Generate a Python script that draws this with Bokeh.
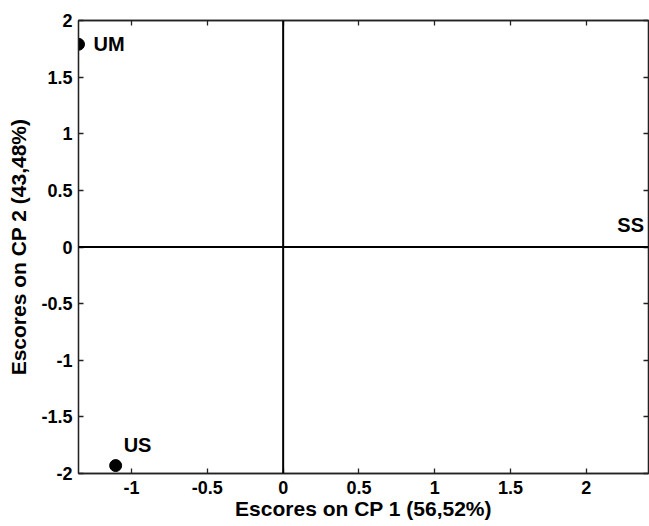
from bokeh.plotting import figure
from bokeh.models import ColumnDataSource, Span, LinearAxis, FixedTicker, Range1d
from bokeh.core.properties import value
from bokeh.embed import file_html
from bokeh.resources import INLINE

# PCA scores
names = ["UM", "US", "SS"]
cp1 = [-1.35, -1.105, 2.60]
cp2 = [1.79, -1.93, 0.19]
label_dx = [15, 8, -60]
label_dy = [0, -21, 0]

x_ticks = [-1, -0.5, 0, 0.5, 1, 1.5, 2]
x_tick_labels = ["-1", "-0.5", "0", "0.5", "1", "1.5", "2"]
y_ticks = [-2, -1.5, -1, -0.5, 0, 0.5, 1, 1.5, 2]
y_tick_labels = ["-2", "-1.5", "-1", "-0.5", "0", "0.5", "1", "1.5", "2"]

x_title = "Escores on CP 1 (56,52%)"
y_title = "Escores on CP 2 (43,48%)"

FONT = "Liberation Sans"

p = figure(width=649, height=526, output_backend="svg", toolbar_location=None,
           x_range=Range1d(-1.35, 2.41), y_range=Range1d(-2, 2),
           x_axis_location=None, y_axis_location=None,
           min_border_left=78, min_border_right=1, min_border_top=20,
           min_border_bottom=53)
p.grid.visible = False
p.outline_line_color = "#222222"
p.outline_line_width = 1.3
p.background_fill_color = "white"
p.border_fill_color = "white"


def style_axis(ax, labels):
    ax.major_tick_in = 5
    ax.major_tick_out = 0
    ax.minor_tick_in = 0
    ax.minor_tick_out = 0
    ax.axis_line_color = "#222222"
    ax.axis_line_width = 1.3
    ax.major_tick_line_color = "#222222"
    ax.major_tick_line_width = 1.3
    ax.major_label_text_font = FONT
    ax.major_label_text_font_style = "bold"
    ax.major_label_text_font_size = "18px"
    ax.major_label_text_color = "black"
    ax.major_label_overrides = labels
    ax.axis_label_text_font = FONT
    ax.axis_label_text_font_style = "bold"
    ax.axis_label_text_font_size = "21px"
    ax.axis_label_text_color = "black"


xb = LinearAxis(ticker=FixedTicker(ticks=x_ticks), axis_label=x_title)
style_axis(xb, {v: s for v, s in zip(x_ticks, x_tick_labels)})
xb.major_label_standoff = 7
xb.axis_label_standoff = 0
p.add_layout(xb, "below")

yl = LinearAxis(ticker=FixedTicker(ticks=y_ticks), axis_label=y_title)
style_axis(yl, {v: s for v, s in zip(y_ticks, y_tick_labels)})
yl.major_label_standoff = 6
yl.axis_label_standoff = 8
p.add_layout(yl, "left")

# mirrored tick marks on the top and right edges, without labels
xt = LinearAxis(ticker=FixedTicker(ticks=x_ticks))
style_axis(xt, {v: "" for v in x_ticks})
xt.major_label_standoff = 0
p.add_layout(xt, "above")

yr = LinearAxis(ticker=FixedTicker(ticks=y_ticks))
style_axis(yr, {v: "" for v in y_ticks})
yr.major_label_standoff = 0
p.add_layout(yr, "right")

# origin lines
p.add_layout(Span(location=0, dimension="width", line_color="black", line_width=2))
p.add_layout(Span(location=0, dimension="height", line_color="black", line_width=2))

src = ColumnDataSource(dict(x=cp1, y=cp2, name=names, dx=label_dx, dy=label_dy))
p.scatter("x", "y", source=src, size=12, color="black")
p.text("x", "y", text="name", x_offset="dx", y_offset="dy", source=src,
       text_font=value(FONT), text_font_style="bold", text_font_size="20px",
       text_color="black", text_baseline="middle", text_align="left")

open("out.html", "w").write(file_html(p, INLINE))
